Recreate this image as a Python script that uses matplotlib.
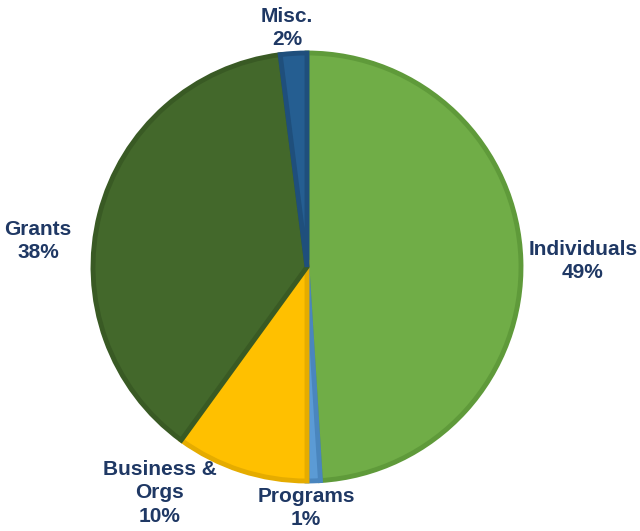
import matplotlib
matplotlib.use("Agg")
import matplotlib.pyplot as plt

labels = ["Individuals", "Programs", "Business &\nOrgs", "Grants", "Misc."]
values = [49, 1, 10, 38, 2]
colors = ["#70AD47", "#5B9BD5", "#FFC000", "#43682B", "#255E91"]
edges = ["#5F9A3A", "#4A86BE", "#E5AC00", "#395A24", "#1F4F7C"]
label_pos = [(583, 261), (306, 508), (160, 493), (38, 241), (287, 28)]

H = 531
fig = plt.figure(figsize=(6.4, 5.31), dpi=100)
ax = fig.add_axes([0, 0, 1, 1])

wedges, _ = ax.pie(values, colors=colors, startangle=90, counterclock=False,
                   center=(307, H - 267), radius=214, frame=True,
                   wedgeprops=dict(linewidth=3.5))
for w, e in zip(wedges, edges):
    w.set_edgecolor(e)
ax.set_xlim(0, 640)
ax.set_ylim(0, H)
ax.set_aspect("equal")
ax.axis("off")

for lab, v, (x, y) in zip(labels, values, label_pos):
    ax.text(x, H - y, f"{lab}\n{v}%", ha="center", va="center", fontsize=15,
            fontweight="bold", color="#1F3864", family="Liberation Sans",
            linespacing=1.3)

fig.savefig("out.png", dpi=100)
